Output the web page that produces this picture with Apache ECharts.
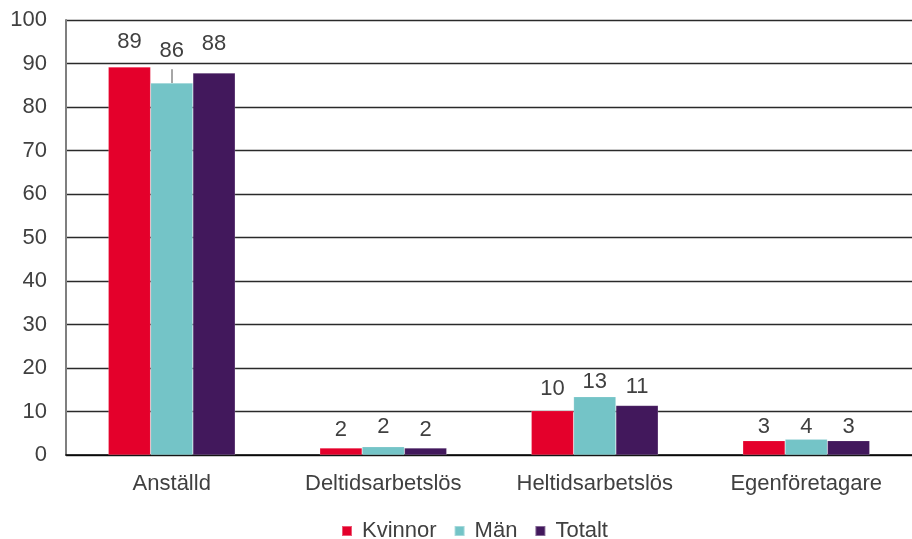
<!DOCTYPE html>
<html><head><meta charset="utf-8">
<script src="https://cdn.jsdelivr.net/npm/echarts@6/dist/echarts.min.js"></script>
<style>html,body{margin:0;padding:0;background:#fff}#c{width:912px;height:539px}</style>
</head><body><div id="c"></div>
<script>
const categories = ['Anställd', 'Deltidsarbetslös', 'Heltidsarbetslös', 'Egenföretagare'];
const kvinnor = [89.2, 1.6, 10.2, 3.3];
const man = [85.5, 1.9, 13.4, 3.6];
const totalt = [87.8, 1.6, 11.4, 3.3];
const yTicks = {min: 0, max: 100, interval: 10};
const leader = {category: 'Anställd', from: 85.5, to: 88.7};

const chart = echarts.init(document.getElementById('c'));
const fontFam = 'Liberation Sans, Arial, sans-serif';
const FS = 22;
const lbl = {show: true, position: 'top', color: '#404040', fontSize: FS, fontFamily: fontFam,
  formatter: p => Math.round(p.value), distance: 6};
function withDist(arr, dists) {
  return arr.map((v, i) => dists[i] == null ? v : {value: v, label: {distance: dists[i]}});
}
function s(name, data, color, extra) {
  return Object.assign({name, type: 'bar', data, barGap: '0%', barCategoryGap: '40%',
    itemStyle: {color, borderColor: 'rgba(255,255,255,0.35)', borderWidth: 0.5}, label: lbl}, extra || {});
}
chart.setOption({
  animation: false,
  textStyle: {fontFamily: fontFam},
  grid: {left: 66, right: -10, top: 20, bottom: 84, containLabel: false},
  legend: {top: 520, left: 341, itemWidth: 10, itemHeight: 10, itemGap: 17, padding: 0,
    icon: 'rect', textStyle: {fontSize: FS, color: '#404040', fontFamily: fontFam, padding: [0, 0, 0, 5]},
    data: ['Kvinnor', 'Män', 'Totalt']},
  xAxis: {type: 'category', data: categories,
    axisLine: {lineStyle: {color: '#000', width: 1.5}}, axisTick: {show: false},
    axisLabel: {fontSize: FS, color: '#404040', margin: 18, fontFamily: fontFam}},
  yAxis: {type: 'value', min: yTicks.min, max: yTicks.max, interval: yTicks.interval,
    axisLine: {show: true, lineStyle: {color: '#7f7f7f', width: 2}}, axisTick: {show: false},
    splitLine: {lineStyle: {color: '#2a2a2a', width: 1.3}},
    axisLabel: {fontSize: FS, color: '#404040', margin: 19, fontFamily: fontFam}},
  series: [
    s('Kvinnor', withDist(kvinnor, [14, 7, 11, 3]), '#E4002B'),
    s('Män', withDist(man, [21, 9, 4, 1]), '#74C4C7', {
      markLine: {symbol: 'none', silent: true, label: {show: false},
        lineStyle: {color: '#a6a6a6', width: 2, type: 'solid'},
        data: [[{coord: [leader.category, leader.from]}, {coord: [leader.category, leader.to]}]]}}),
    s('Totalt', withDist(totalt, [18, 7, 7, 3]), '#42185C')
  ]
});
</script></body></html>
